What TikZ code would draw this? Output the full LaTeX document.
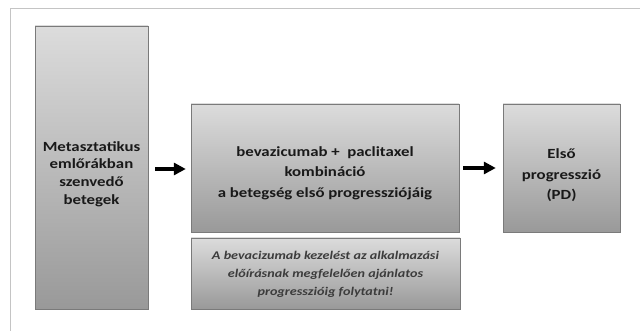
\documentclass[tikz,border=0pt]{standalone}
\usepackage{fontspec}
\setmainfont{Carlito}[FakeStretch=1.2]
\usepackage{tikz}
\usetikzlibrary{arrows.meta, shadows}
\definecolor{boxtop}{HTML}{DCDCDC}
\definecolor{boxbottom}{HTML}{999999}
\definecolor{boxline}{HTML}{7A7A7A}
\definecolor{frameline}{HTML}{C4C4C4}
\definecolor{notetext}{HTML}{3C3C3C}
\tikzstyle{stagebox} = [rectangle, draw=boxline, top color=boxtop, bottom color=boxbottom, inner sep=0pt, drop shadow={shadow xshift=1.2pt, shadow yshift=-1.2pt, opacity=0.35}]
\tikzstyle{stagetext} = [text centered, align=center, inner sep=0pt, font=\fontsize{14}{20.5}\selectfont\bfseries, text=black!90]
\tikzstyle{notetextstyle} = [stagetext, font=\fontsize{11.8}{18}\selectfont\bfseries\itshape, text=notetext]
\tikzstyle{arrow} = [line width=4pt, -{Triangle[length=12pt,width=12pt]}]

\begin{document}
\begin{tikzpicture}[x=1pt, y=-1pt]
      \useasboundingbox (0,0) rectangle (640,331);
      % outer frame
      \draw [frameline, line width=1.8pt] (10.5,331) -- (10.5,8.5) -- (640,8.5);
      \node (patients) [stagebox, minimum width=113pt, minimum height=283pt] at (91.5,167.5) {};
      \node (combo) [stagebox, minimum width=268pt, minimum height=128pt] at (325,168) {};
      \node (note) [stagebox, minimum width=269pt, minimum height=71pt] at (325.5,273.5) {};
      \node (pd) [stagebox, minimum width=117pt, minimum height=128pt] at (561.5,168) {};
      % texts
      \node (patientstext) [stagetext, font=\fontsize{14}{17.8}\selectfont\bfseries] at (91.5,174) {Metasztatikus\\ emlőrákban\\ szenvedő\\ betegek};
      \node (combotext) [stagetext] at (325,173) {bevazicumab +\ \ paclitaxel\\ kombináció\\ a betegség első progressziójáig};
      \node (notetext) [notetextstyle] at (325.5,274.5) {A bevacizumab kezelést az alkalmazási\\ előírásnak megfelelően ajánlatos\\ progresszióig folytatni!};
      \node (pdtext) [stagetext] at (561.5,175.5) {Első\\ progresszió\\ (PD)};
      \draw [arrow] ([xshift=7pt,yshift=-1.5pt]patients.east) -- ([xshift=-5pt,yshift=-1pt]combo.west);
      \draw [arrow] ([xshift=4pt]combo.east) -- ([xshift=-7pt]pd.west);
\end{tikzpicture}
\end{document}
